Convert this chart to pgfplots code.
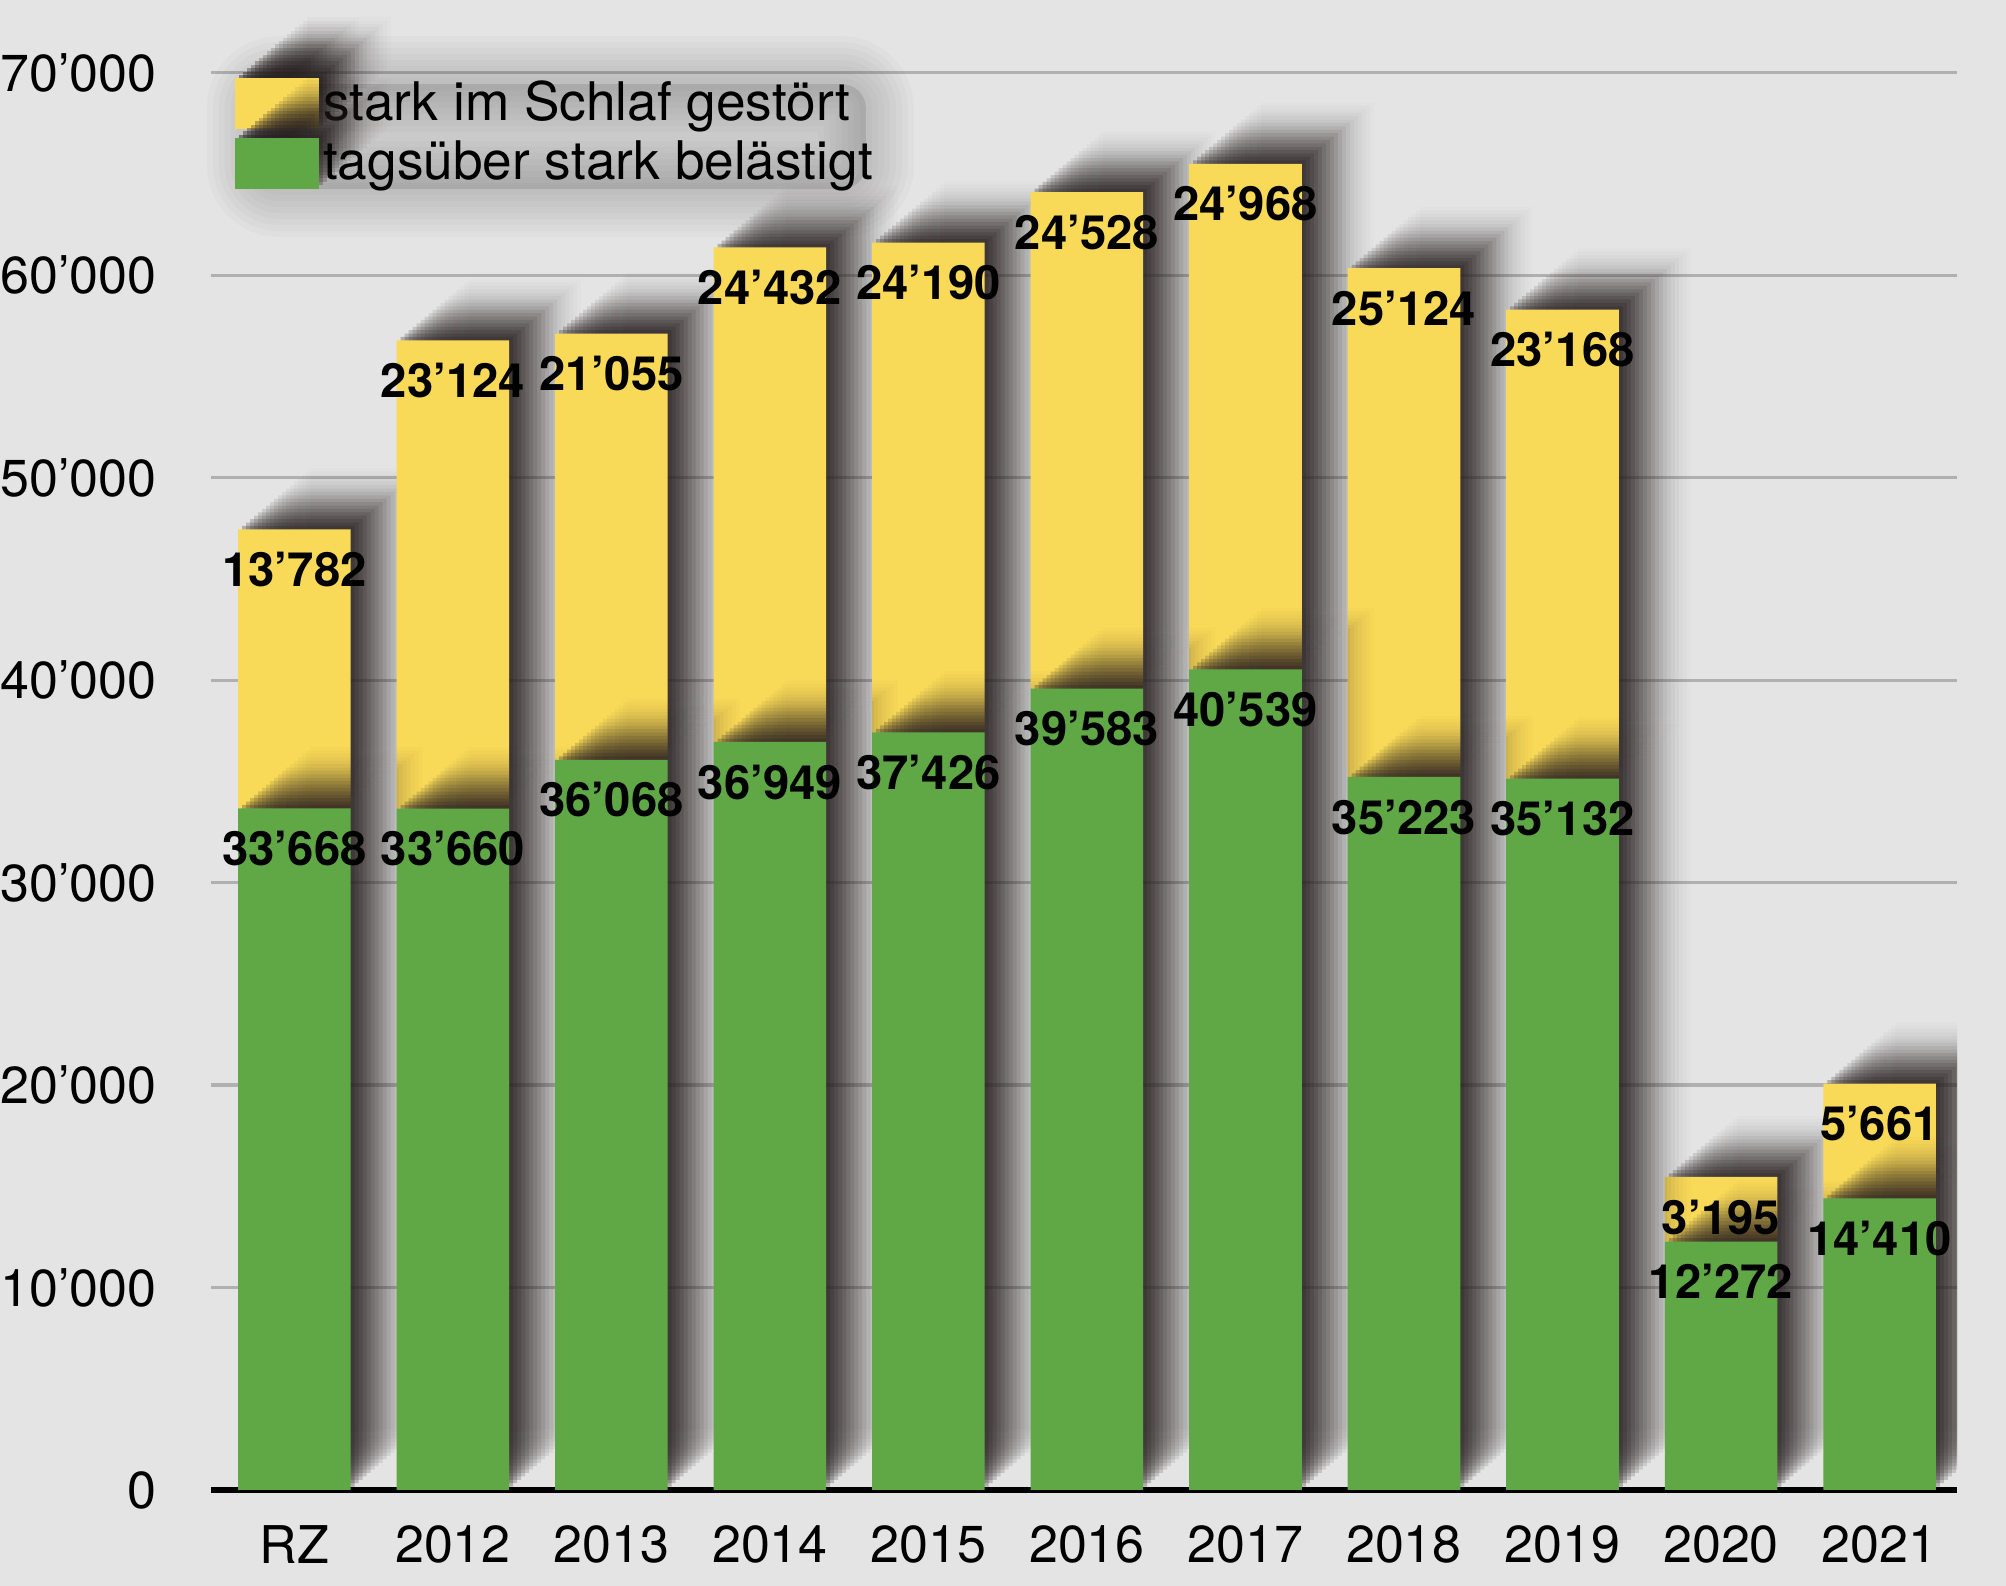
\documentclass[border=0pt]{standalone}
\usepackage{fontspec}
\setmainfont{TeX Gyre Heros}
\usepackage{pgfplots}
\pgfplotsset{compat=1.18}
\usepackage{pgfplotstable}
\definecolor{bgc}{RGB}{228,228,228}
\definecolor{gridc}{RGB}{176,176,176}
\definecolor{yel}{RGB}{248,217,88}
\definecolor{grn}{RGB}{96,168,70}
\definecolor{shc}{RGB}{42,34,34}
\pagecolor{bgc}
\pgfplotstableread{
x green yellow
0 33668 13782
1 33660 23124
2 36068 21055
3 36949 24432
4 37426 24190
5 39583 24528
6 40539 24968
7 35223 25124
8 35132 23168
9 12272 3195
10 14410 5661
}\datatable
\tikzset{
 sh/.style 2 args={preaction={fill=shc, fill opacity=#2, draw=none, transform canvas={xshift={#1*1pt}, yshift={#1*0.85pt}}}},
 glow/.style={sh={18}{0.012}, sh={17}{0.0182}, sh={16}{0.0206}, sh={15}{0.0316}, sh={14}{0.0326}, sh={13}{0.0393},
   sh={12}{0.0585}, sh={11}{0.0683}, sh={10}{0.0867}, sh={9}{0.1022}, sh={8}{0.1057}, sh={7}{0.1273},
   sh={6}{0.125}, sh={5}{0.1667}, sh={4}{0.1714}, sh={3}{0.2069}, sh={2}{0.2391}, sh={1}{0.2857}},
 lg/.style={preaction={draw=shc, draw opacity=0.025, line width=#1, line join=round, fill=none}},
 legglow/.style={preaction={fill=shc, fill opacity=0.13}, lg=3pt, lg=6pt, lg=9pt, lg=12pt, lg=15pt, lg=18pt, lg=21pt, lg=24pt},
}
\begin{document}
\begin{tikzpicture}
\begin{axis}[
  at={(52.8pt,24pt)}, anchor=south west,
  scale only axis, width=436.5pt, height=354.3pt,
  set layers,
  clip mode=individual,
  ybar stacked, bar width=0.71,
  xmin=-0.525, xmax=10.49, ymin=0, ymax=70000,
  xtick=data,
  xticklabels={RZ,2012,2013,2014,2015,2016,2017,2018,2019,2020,2021},
  ytick={0,10000,20000,30000,40000,50000,60000,70000},
  scaled y ticks=false,
  ymajorgrids, grid style={gridc, line width=0.8pt},
  major tick length=0pt,
  axis line style={draw=none},
  tick label style={font=\fontsize{13}{13}\selectfont, text=black},
  yticklabel style={xshift=-10.1pt},
  xticklabel style={yshift=-5.3pt},
  /pgf/number format/1000 sep={’},
  /pgf/number format/assume math mode=true,
  reverse legend,
  legend style={at={(0,1)}, anchor=north west, xshift=6pt, yshift=-1pt,
    draw=none, fill=none, inner sep=0pt, outer sep=0pt,
    font=\fontsize{13.3}{14}\selectfont,
    row sep=1.6pt, nodes={inner sep=1pt}, cells={anchor=west}},
]
\addplot[fill=grn, draw=none, glow,
  legend image code/.code={\fill[grn] (0pt,-6.3pt) rectangle (13pt,6.3pt); \path (0pt,-6.3pt) rectangle (21pt,6.3pt);}]
  table[x=x, y=green] {\datatable};
\addlegendentry{tagsüber stark belästigt}
\addplot[fill=yel, draw=none, glow, on layer=pre main,
  legend image code/.code={\fill[yel] (0pt,-6.3pt) rectangle (13pt,6.3pt); \path (0pt,-6.3pt) rectangle (21pt,6.3pt);}]
  table[x=x, y=yellow] {\datatable};
\addlegendentry{stark im Schlaf gestört}
\draw[black, line width=1.3pt] (rel axis cs:0,0) -- (rel axis cs:1,0);
\path[legglow, rounded corners=6pt] (axis description cs:0.025,0.992) rectangle (axis description cs:0.375,0.918);
\end{axis}
\begin{axis}[
  at={(52.8pt,24pt)}, anchor=south west,
  scale only axis, width=436.5pt, height=354.3pt,
  hide axis, clip=false,
  xmin=-0.525, xmax=10.49, ymin=0, ymax=70000,
  /pgf/number format/1000 sep={’},
  /pgf/number format/assume math mode=true,
  nodes near coords,
  point meta=explicit,
  every node near coord/.append style={font=\bfseries\fontsize{11.8}{12}\selectfont, anchor=north, yshift=-5.5pt, text=black, inner sep=0pt},
]
\addplot[draw=none, mark=none] table[x=x, y=green, meta=green] {\datatable};
\addplot[draw=none, mark=none] table[x=x, y expr=\thisrow{green}+\thisrow{yellow}, meta=yellow] {\datatable};
\end{axis}
\pgfresetboundingbox
\path[use as bounding box] (0,0) rectangle (501.5pt,396.5pt);
\end{tikzpicture}
\end{document}
